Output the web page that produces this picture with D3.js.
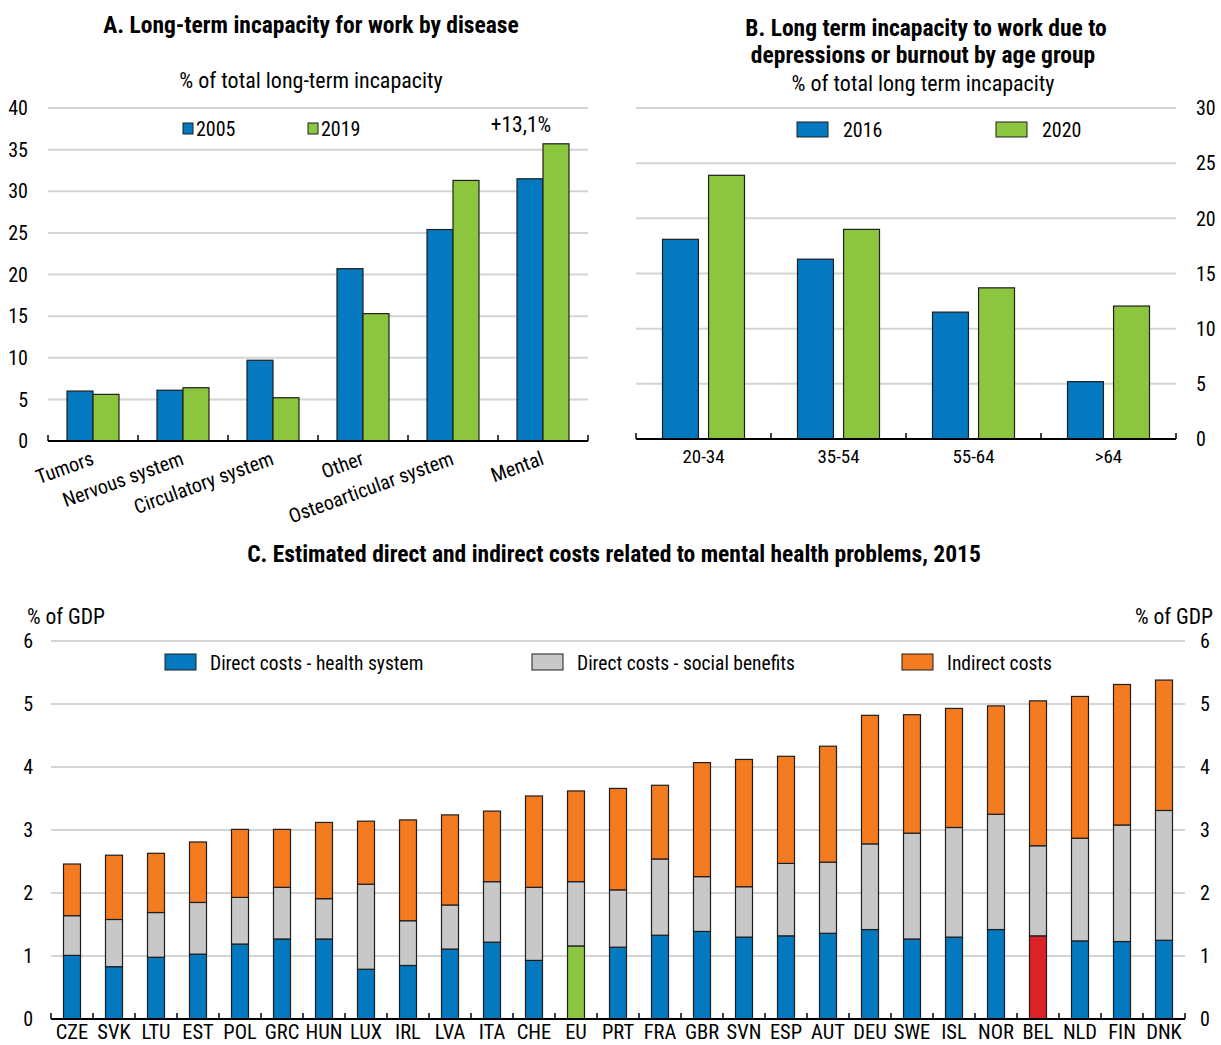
<!DOCTYPE html>
<html><head><meta charset="utf-8">
<script src="https://cdn.jsdelivr.net/npm/d3@7"></script>
<style>
html,body{margin:0;padding:0;background:#fff;}
svg text{font-family:'Roboto Condensed','Liberation Sans Narrow','Arial Narrow',sans-serif;fill:#000;}
</style></head>
<body>
<svg id="chart" width="1221" height="1045"></svg>
<script>
// ---------- Panel A data ----------
const diseases = ["Tumors","Nervous system","Circulatory system","Other","Osteoarticular system","Mental"];
const seriesA = ["2005","2019"];
const valuesA2005 = [6.0, 6.1, 9.7, 20.7, 25.4, 31.5];
const valuesA2019 = [5.6, 6.4, 5.2, 15.3, 31.3, 35.7];
const ticksA = [0,5,10,15,20,25,30,35,40];

// ---------- Panel B data ----------
const ageGroups = ["20-34","35-54","55-64",">64"];
const seriesB = ["2016","2020"];
const valuesB2016 = [18.1, 16.3, 11.5, 5.2];
const valuesB2020 = [23.9, 19.0, 13.7, 12.05];
const ticksB = [0,5,10,15,20,25,30];

// ---------- Panel C data ----------
const countries = ["CZE","SVK","LTU","EST","POL","GRC","HUN","LUX","IRL","LVA","ITA","CHE","EU","PRT","FRA","GBR","SVN","ESP","AUT","DEU","SWE","ISL","NOR","BEL","NLD","FIN","DNK"];
const healthCosts   = [1.01,0.83,0.98,1.03,1.19,1.27,1.27,0.79,0.85,1.11,1.22,0.93,1.16,1.14,1.33,1.39,1.30,1.32,1.36,1.42,1.27,1.30,1.42,1.32,1.24,1.23,1.25];
const socialCosts   = [0.63,0.75,0.71,0.82,0.74,0.82,0.64,1.35,0.71,0.70,0.96,1.16,1.02,0.91,1.21,0.87,0.80,1.15,1.13,1.36,1.68,1.74,1.83,1.43,1.63,1.85,2.06];
const indirectCosts = [0.82,1.02,0.94,0.96,1.08,0.92,1.21,1.00,1.60,1.43,1.12,1.45,1.44,1.61,1.17,1.81,2.02,1.70,1.84,2.04,1.88,1.89,1.72,2.30,2.25,2.23,2.07];
const seriesC = ["Direct costs - health system","Direct costs - social benefits","Indirect costs"];
const ticksC = [0,1,2,3,4,5,6];

// ---------- styles ----------
const BLUE = "#0479bf", GREEN = "#8cc63f", GREY = "#c8c8c8", ORANGE = "#f47b20", RED = "#dc2428";
const GRID = "#d4d4d4", OUT = "#1e1e1e";
const FS = 20, FS_SUB = 22, FS_TITLE = 23.5;

const svg = d3.select("#chart");

function gridAndAxis(g, x0, x1, y, ticks, labelX, anchor) {
  g.selectAll(null).data(ticks.filter(t => t !== 0)).join("line")
    .attr("x1", x0).attr("x2", x1).attr("y1", d => y(d)).attr("y2", d => y(d))
    .attr("stroke", GRID).attr("stroke-width", 2);
  g.selectAll(null).data(ticks).join("text")
    .attr("x", labelX).attr("y", d => y(d)).attr("dy", "0.36em")
    .attr("text-anchor", anchor).attr("font-size", FS).text(d => d);
}
function baseAxis(g, x, y) {
  const edges = x.domain().map((d, i) => x.range()[0] + i * x.step());
  edges.push(x.range()[1]);
  g.append("line").attr("x1", x.range()[0]).attr("x2", x.range()[1])
    .attr("y1", y(0)).attr("y2", y(0)).attr("stroke", "#000").attr("stroke-width", 2);
  g.selectAll(null).data(edges).join("line")
    .attr("x1", d => d).attr("x2", d => d).attr("y1", y(0)).attr("y2", y(0) - 6)
    .attr("stroke", "#000").attr("stroke-width", 1.5);
}

// ================= Panel A =================
{
  const g = svg.append("g");
  const x = d3.scaleBand().domain(diseases).range([48, 588]);
  const y = d3.scaleLinear().domain([0, 40]).range([441, 108]);
  gridAndAxis(g, 48, 588, y, ticksA, 28, "end");
  const gw = 52;
  const x1 = d3.scaleBand().domain(seriesA).range([0, gw]);
  const colors = [BLUE, GREEN];
  diseases.forEach((cat, i) => {
    const vals = [valuesA2005[i], valuesA2019[i]];
    seriesA.forEach((s, j) => {
      g.append("rect")
        .attr("x", x(cat) + (x.bandwidth() - gw) / 2 + x1(s))
        .attr("width", x1.bandwidth())
        .attr("y", y(vals[j])).attr("height", y(0) - y(vals[j]))
        .attr("fill", colors[j]).attr("stroke", OUT).attr("stroke-width", 1.2);
    });
  });
  baseAxis(g, x, y);
  g.selectAll(null).data(diseases).join("text")
    .attr("text-anchor", "end").attr("font-size", FS)
    .attr("transform", d => `translate(${x(d) + x.bandwidth() / 2 + 2},${464}) rotate(-20)`)
    .text(d => d);
  const leg = [{x: 183, t: seriesA[0], c: BLUE}, {x: 308, t: seriesA[1], c: GREEN}];
  leg.forEach(l => {
    g.append("rect").attr("x", l.x).attr("y", 123).attr("width", 10).attr("height", 11)
      .attr("fill", l.c).attr("stroke", OUT).attr("stroke-width", 1);
    g.append("text").attr("x", l.x + 13).attr("y", 136).attr("font-size", FS).text(l.t);
  });
  g.append("text").attr("x", 521).attr("y", 132).attr("text-anchor", "middle").attr("font-size", 21.5).text("+13,1%");
  g.append("text").attr("x", 311).attr("y", 33).attr("text-anchor", "middle").attr("font-size", FS_TITLE).attr("font-weight", "bold")
    .text("A. Long-term incapacity for work by disease");
  g.append("text").attr("x", 311).attr("y", 88).attr("text-anchor", "middle").attr("font-size", FS_SUB)
    .text("% of total long-term incapacity");
}

// ================= Panel B =================
{
  const g = svg.append("g");
  const x = d3.scaleBand().domain(ageGroups).range([636, 1176]);
  const y = d3.scaleLinear().domain([0, 30]).range([439, 108]);
  gridAndAxis(g, 636, 1176, y, ticksB, 1196, "start");
  const gw = 82;
  const x1 = d3.scaleBand().domain(seriesB).range([0, gw]).paddingInner(0.22);
  const colors = [BLUE, GREEN];
  ageGroups.forEach((a, i) => {
    const vals = [valuesB2016[i], valuesB2020[i]];
    seriesB.forEach((s, j) => {
      g.append("rect")
        .attr("x", x(a) + (x.bandwidth() - gw) / 2 + x1(s))
        .attr("width", x1.bandwidth())
        .attr("y", y(vals[j])).attr("height", y(0) - y(vals[j]))
        .attr("fill", colors[j]).attr("stroke", OUT).attr("stroke-width", 1.2);
    });
  });
  baseAxis(g, x, y);
  g.selectAll(null).data(ageGroups).join("text")
    .attr("x", d => x(d) + x.bandwidth() / 2).attr("y", 463)
    .attr("text-anchor", "middle").attr("font-size", 19).text(d => d);
  const leg = [{x: 797, t: seriesB[0], c: BLUE}, {x: 996, t: seriesB[1], c: GREEN}];
  leg.forEach(l => {
    g.append("rect").attr("x", l.x).attr("y", 122).attr("width", 31).attr("height", 15)
      .attr("fill", l.c).attr("stroke", OUT).attr("stroke-width", 1);
    g.append("text").attr("x", l.x + 46).attr("y", 137).attr("font-size", FS).text(l.t);
  });
  g.append("text").attr("x", 926).attr("y", 36).attr("text-anchor", "middle").attr("font-size", FS_TITLE).attr("font-weight", "bold")
    .text("B. Long term incapacity to work due to");
  g.append("text").attr("x", 923).attr("y", 63).attr("text-anchor", "middle").attr("font-size", FS_TITLE).attr("font-weight", "bold")
    .text("depressions or burnout by age group");
  g.append("text").attr("x", 923).attr("y", 91).attr("text-anchor", "middle").attr("font-size", FS_SUB)
    .text("% of total long term incapacity");
}

// ================= Panel C =================
{
  const g = svg.append("g");
  const x = d3.scaleBand().domain(countries).range([51, 1185]).paddingInner(0.595).paddingOuter(0.2975);
  const xe = d3.scaleBand().domain(countries).range([51, 1185]);
  const y = d3.scaleLinear().domain([0, 6]).range([1019, 641]);
  gridAndAxis(g, 51, 1185, y, ticksC, 33, "end");
  g.selectAll(null).data(ticksC).join("text")
    .attr("x", 1200).attr("y", d => y(d)).attr("dy", "0.36em")
    .attr("font-size", FS).text(d => d);
  const rows = countries.map((c, i) => ({country: c, health: healthCosts[i], social: socialCosts[i], indirect: indirectCosts[i]}));
  const keys = ["health", "social", "indirect"];
  const stack = d3.stack().keys(keys)(rows);
  const baseColor = [BLUE, GREY, ORANGE];
  stack.forEach((layer, k) => {
    g.selectAll(null).data(layer).join("rect")
      .attr("x", d => x(d.data.country)).attr("width", x.bandwidth())
      .attr("y", d => y(d[1])).attr("height", d => y(d[0]) - y(d[1]))
      .attr("fill", d => k === 0 ? (d.data.country === "EU" ? GREEN : d.data.country === "BEL" ? RED : BLUE) : baseColor[k])
      .attr("stroke", OUT).attr("stroke-width", 1.2);
  });
  baseAxis(g, xe, y);
  g.selectAll(null).data(countries).join("text")
    .attr("x", d => x(d) + x.bandwidth() / 2).attr("y", 1039)
    .attr("text-anchor", "middle").attr("font-size", 20.5).text(d => d);
  const leg = [{x: 165, t: seriesC[0], c: BLUE}, {x: 532, t: seriesC[1], c: GREY}, {x: 902, t: seriesC[2], c: ORANGE}];
  leg.forEach(l => {
    g.append("rect").attr("x", l.x).attr("y", 654).attr("width", 31).attr("height", 16)
      .attr("fill", l.c).attr("stroke", OUT).attr("stroke-width", 1);
    g.append("text").attr("x", l.x + 45).attr("y", 670).attr("font-size", 19.5).text(l.t);
  });
  g.append("text").attr("x", 27).attr("y", 624).attr("font-size", 21.5).text("% of GDP");
  g.append("text").attr("x", 1213).attr("y", 624).attr("text-anchor", "end").attr("font-size", 21.5).text("% of GDP");
  g.append("text").attr("x", 614).attr("y", 562).attr("text-anchor", "middle").attr("font-size", FS_TITLE).attr("font-weight", "bold")
    .text("C. Estimated direct and indirect costs related to mental health problems, 2015");
}
</script>
</body></html>
